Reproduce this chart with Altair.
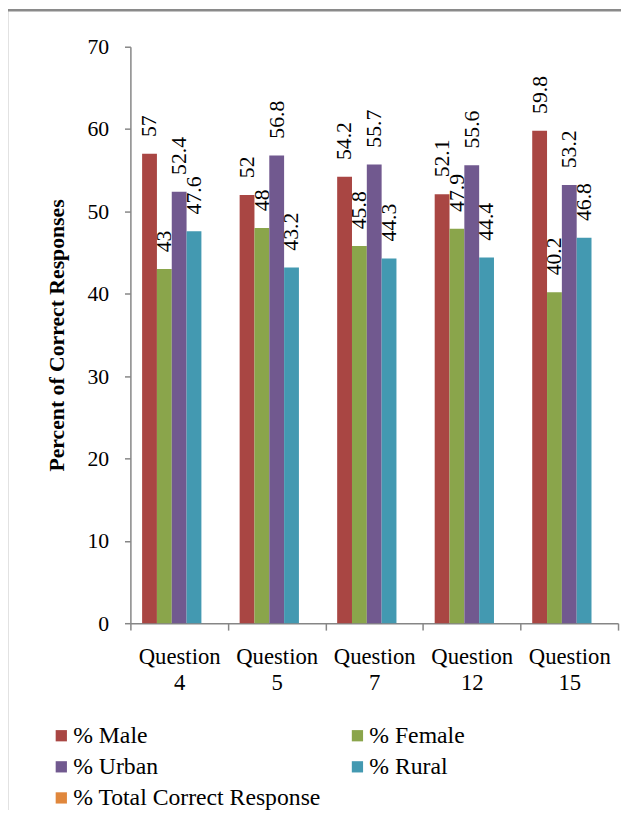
import altair as alt
import pandas as pd

questions = ["Question 4", "Question 5", "Question 7", "Question 12", "Question 15"]
series = ["% Male", "% Female", "% Urban", "% Rural", "% Total Correct Response"]
male = [57, 52, 54.2, 52.1, 59.8]
female = [43, 48, 45.8, 47.9, 40.2]
urban = [52.4, 56.8, 55.7, 55.6, 53.2]
rural = [47.6, 43.2, 44.3, 44.4, 46.8]
colors = ["#A94643", "#8AA54B", "#71598F", "#4399B1", "#E0873C"]

rows = []
for name, vals in zip(series[:4], [male, female, urban, rural]):
    for q, v in zip(questions, vals):
        rows.append({"question": q, "series": name, "value": v})
df = pd.DataFrame(rows)

FONT = "Liberation Serif, Times New Roman, Noto Serif, DejaVu Serif, serif"
GRAY = "#868686"
W, H = 494, 584

x = alt.X("question:N", sort=questions,
          scale=alt.Scale(paddingInner=0, paddingOuter=0),
          axis=alt.Axis(title=None, labelAngle=0, tickBand="extent",
                        labelExpr="split(datum.label, ' ')",
                        labelFont=FONT, labelFontSize=23, labelColor="#000000",
                        labelLineHeight=26, labelPadding=16,
                        domainColor=GRAY, tickColor=GRAY, tickSize=7,
                        domainWidth=1.5, tickWidth=1.5))
xo = alt.XOffset("series:N", sort=series,
                 scale=alt.Scale(domain=series, paddingInner=0, paddingOuter=0.79))

bars = alt.Chart(df).mark_bar().encode(
    x=x, xOffset=xo,
    y=alt.Y("value:Q",
            scale=alt.Scale(domain=[0, 70]),
            axis=alt.Axis(title="Percent of Correct Responses", values=[0, 10, 20, 30, 40, 50, 60, 70],
                          grid=False, labelFont=FONT, labelFontSize=22, labelColor="#000000",
                          labelPadding=16, tickSize=6, tickColor=GRAY, domainColor=GRAY,
                          domainWidth=1.5, tickWidth=1.5,
                          titleFont=FONT, titleFontSize=22, titleFontWeight="bold",
                          titleColor="#000000", titleX=-75, titleY=H / 2,
                          titleAlign="center", titleBaseline="middle", titleAngle=270)),
    color=alt.Color("series:N", sort=series,
                    scale=alt.Scale(domain=series, range=colors),
                    legend=alt.Legend(title=None, orient="none", legendX=-82, legendY=686,
                                      direction="horizontal", padding=0,
                                      columns=2, columnPadding=25, rowPadding=7.5,
                                      symbolType="square", symbolSize=130,
                                      symbolStrokeWidth=0, symbolOpacity=1,
                                      labelFont=FONT, labelFontSize=24, labelColor="#000000",
                                      labelOffset=0, labelLimit=400)),
)

labels = alt.Chart(df).mark_text(angle=270, align="left", baseline="middle", dx=17,
                                 font=FONT, fontSize=22, color="#000000").encode(
    x=x, xOffset=xo, y="value:Q", text=alt.Text("value:Q"),
)

frame = alt.Chart(alt.Data(values=[{}])).mark_rect(fill="transparent", stroke="#8A8A8A",
                                                    strokeWidth=2.5).encode(
    x=alt.value(-125), x2=alt.value(W + 60), y=alt.value(-37), y2=alt.value(H + 300))

chart = alt.layer(frame, bars, labels).properties(
    width=W, height=H,
    autosize=alt.AutoSizeParams(type="none"),
    padding={"left": 124, "top": 34, "right": 3, "bottom": 184},
).configure_view(stroke=None)

chart.save("out.html", embed_options={"renderer": "svg", "actions": False})
